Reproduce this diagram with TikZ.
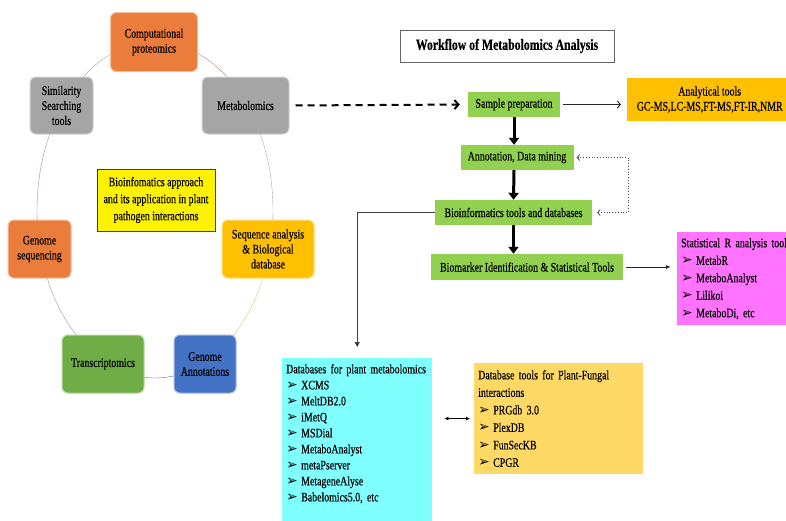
\documentclass[tikz,border=0pt]{standalone}
\usepackage{fontspec}
\setmainfont[FakeStretch=0.76,FakeBold=0.4]{Liberation Serif}
\newfontfamily\dingfont{DejaVu Sans}
\usetikzlibrary{positioning,arrows.meta,backgrounds,calc}

\definecolor{omicorange}{HTML}{EB7D3C}
\definecolor{omicgray}{HTML}{A5A5A5}
\definecolor{omicgold}{HTML}{FFC000}
\definecolor{omicgreen}{HTML}{70AD47}
\definecolor{omicblue}{HTML}{4472C4}
\definecolor{flowgreen}{HTML}{92D050}
\definecolor{toolpink}{HTML}{FF73FF}
\definecolor{dbcyan}{HTML}{80FFFF}
\definecolor{dbgold}{HTML}{FFD966}
\definecolor{ringbrown}{HTML}{B98A68}
\definecolor{ringgray}{HTML}{A8A8A8}
\definecolor{ringsteel}{HTML}{A4AAB8}
\definecolor{ringolive}{HTML}{CFC980}
\definecolor{ringblue}{HTML}{4F74B8}
\definecolor{ringsage}{HTML}{98A088}

\newcommand{\arrowitem}{\makebox[15pt][l]{\dingfont\fontsize{14}{14}\selectfont ➢}}

\begin{document}
\begin{tikzpicture}[x=1pt,y=-1pt,
    font=\fontsize{13}{15}\selectfont,
    omic/.style={draw=#1!50!white,fill=#1,line width=1pt,rounded corners=6pt,align=center,inner sep=2pt},
    flowbox/.style={fill=flowgreen,inner sep=2pt,minimum height=25pt},
    listbox/.style={align=left,anchor=north west,inner xsep=4pt,inner ysep=6pt,font=\fontsize{13}{17.5}\selectfont}]

    \tikzstyle{thick arrow}=[line width=3pt,-{Triangle[length=7pt,width=10pt]}]
    \tikzstyle{dashed arrow}=[line width=2pt,dash pattern=on 7pt off 5pt,-{Straight Barb[length=4pt,width=9pt]},shorten <=6pt,shorten >=8pt]
    \tikzstyle{thin arrow}=[line width=1pt,black!85,-{Straight Barb[length=3pt,width=7pt]},shorten <=3pt,shorten >=6pt]
    \tikzstyle{dotted arrow}=[line width=0.8pt,black!70,dotted,{Straight Barb[length=2.5pt,width=6pt]}-{Straight Barb[length=2.5pt,width=6pt]},shorten <=3pt,shorten >=5pt]
    \tikzstyle{plain arrow}=[line width=1pt,black!75,-{Triangle[length=5pt,width=5pt]},shorten >=11pt]

    \useasboundingbox (0,0) rectangle (786,520);

    % omics ring
    \node[omic=omicorange,minimum width=87pt,minimum height=59pt] (comp) at (154,42) {Computational\\proteomics};
    \node[omic=omicgray,minimum width=63pt,minimum height=57pt] (simil) at (61.5,105.5) {Similarity\\Searching\\tools};
    \node[omic=omicgray,minimum width=87pt,minimum height=57pt] (metab) at (245.5,105.5) {Metabolomics};
    \node[draw=black!75,fill=yellow,line width=1pt,align=center,minimum width=118pt,minimum height=62pt,
          inner sep=1pt,font=\fontsize{13}{17}\selectfont] (bioapp) at (156,200)
          {Bioinfomatics approach\\and its application in plant\\pathogen interactions};
    \node[omic=omicorange,minimum width=63pt,minimum height=58pt] (genseq) at (39.5,249) {Genome\\sequencing};
    \node[omic=omicgold,minimum width=92pt,minimum height=58pt] (seqdb) at (268,249) {Sequence analysis\\\& Biological\\database};
    \node[omic=omicgreen,minimum width=82pt,minimum height=58pt] (transc) at (103,364) {Transcriptomics};
    \node[omic=omicblue,minimum width=62pt,minimum height=58pt] (genann) at (205,364) {Genome\\Annotations};

    % workflow
    \node[draw=black!60,fill=white,line width=1pt,font=\bfseries\fontsize{15.5}{17}\selectfont,
          minimum width=214pt,minimum height=32pt] (title) at (507,46) {Workflow of Metabolomics Analysis};
    \node[flowbox,minimum width=92pt] (sample) at (514,104.5) {Sample preparation};
    \node[flowbox,minimum width=113pt] (annot) at (517,157.5) {Annotation, Data mining};
    \node[flowbox,minimum width=157pt] (bioinf) at (513.5,212.5) {Bioinformatics tools and databases};
    \node[flowbox,minimum width=192pt,minimum height=26pt] (biomark) at (527,267) {Biomarker Identification \& Statistical Tools};
    \node[fill=omicgold,align=center,anchor=west,minimum width=165pt,minimum height=43pt] (analyt) at (627,99.5)
          {Analytical tools\\GC-MS,LC-MS,FT-MS,FT-IR,NMR};

    \node[listbox,fill=toolpink,text width=112pt] (stat) at (677,232)
          {Statistical R analysis tool\\
           \arrowitem MetabR\\
           \arrowitem MetaboAnalyst\\
           \arrowitem Lilikoi\\
           \arrowitem MetaboDi, etc};
    \node[listbox,text width=142pt,font=\fontsize{13}{16}\selectfont] (dbplant) at (282,358)
          {Databases for plant metabolomics\\
           \arrowitem XCMS\\
           \arrowitem MeltDB2.0\\
           \arrowitem iMetQ\\
           \arrowitem MSDial\\
           \arrowitem MetaboAnalyst\\
           \arrowitem metaPserver\\
           \arrowitem MetageneAlyse\\
           \arrowitem Babelomics5.0, etc};
    \node[listbox,fill=dbgold,text width=161pt,inner ysep=7pt] (dbfungal) at (474,363)
          {Database tools for Plant-Fungal\\
           interactions\\
           \arrowitem PRGdb 3.0\\
           \arrowitem PlexDB\\
           \arrowitem FunSecKB\\
           \arrowitem CPGR};

    \coordinate (loop) at (628,185);

    \draw[dashed arrow] (metab.east) -- (sample.west);
    \draw[thin arrow] (sample.east) -- (analyt.west |- sample.east);
    \draw[thick arrow] (sample.south) -- (sample.south |- annot.north);
    \draw[thick arrow] (sample.south |- annot.south) -- (bioinf.north);
    \draw[thick arrow] (bioinf.south) -- (bioinf.south |- biomark.north);
    \draw[dotted arrow] (annot.east) -- (annot.east -| loop) -- (bioinf.east -| loop) -- (bioinf.east);
    \draw[thin arrow,-{Latex[length=5pt,width=4pt]}] (biomark.east) -- (stat.west |- biomark.east);
    \draw[plain arrow] (bioinf.west) -| (dbplant.north);
    \draw[line width=1pt,{Latex[length=4pt,width=4pt]}-{Latex[length=4pt,width=4pt]},shorten <=12pt,shorten >=4pt]
          (dbplant.east |- dbfungal.west) -- (dbfungal.west);

    \begin{scope}[on background layer]
        \fill[dbcyan] (dbplant.north west) rectangle ($(dbplant.south east)+(0,20)$);
    \end{scope}
    \begin{scope}[on background layer,line width=1.5pt]
        \foreach \a/\b/\c in {-90/-39/ringbrown,-39/13/ringsteel,13/66/ringolive,66/116/ringblue,
                              116/167/ringsage,167/218/ringbrown,218/270/ringgray}
            \draw[\c] (155,210) ++(\a:118 and 168) arc[start angle=\a,end angle=\b,x radius=118,y radius=168];
    \end{scope}

\end{tikzpicture}
\end{document}
